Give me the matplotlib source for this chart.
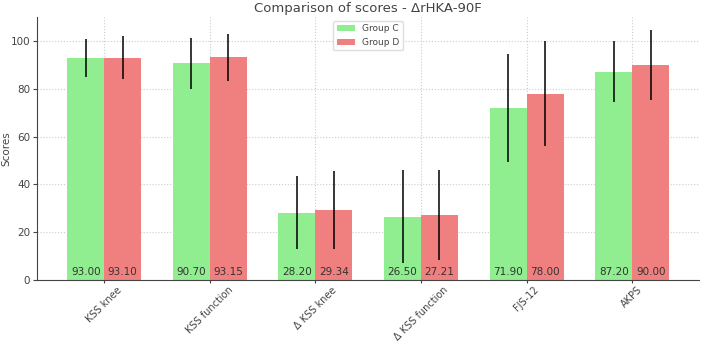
import matplotlib
matplotlib.use("Agg")
import matplotlib.pyplot as plt
import numpy as np

categorias = ["KSS knee", "KSS function", "Δ KSS knee", "Δ KSS function", "FJS-12", "AKPS"]
media_c = [93.00, 90.70, 28.20, 26.50, 71.90, 87.20]
media_d = [93.10, 93.15, 29.34, 27.21, 78.00, 90.00]
sd_c = [8.0, 10.7, 15.3, 19.5, 22.7, 12.9]
sd_d = [9.0, 9.7, 16.2, 19.0, 22.0, 14.6]

gris = "#444444"
plt.rcParams.update({
    "font.family": "DejaVu Sans",
    "text.color": gris,
    "axes.labelcolor": gris,
    "xtick.color": gris,
    "ytick.color": gris,
    "axes.edgecolor": gris,
})

fig = plt.figure(figsize=(7.02, 3.43), dpi=100)
ax = fig.add_axes([0.053, 0.184, 0.943, 0.766])

x = np.arange(len(categorias))
w = 0.35
err = {"elinewidth": 1.1, "ecolor": "black"}
b1 = ax.bar(x - w / 2, media_c, w, yerr=sd_c, color="#90EE90", label="Group C",
            error_kw=err, zorder=2)
b2 = ax.bar(x + w / 2, media_d, w, yerr=sd_d, color="#F08080", label="Group D",
            error_kw=err, zorder=2)

for barras, vals in ((b1, media_c), (b2, media_d)):
    for b, v in zip(barras, vals):
        ax.text(b.get_x() + b.get_width() / 2, 1.2, f"{v:.2f}", ha="center", va="bottom",
                fontsize=7.5, color="#333333", zorder=3)

ax.set_ylim(0, 110)
ax.set_xticks(x)
ax.set_xticklabels(categorias, rotation=45, ha="center", fontsize=7)
ax.tick_params(axis="y", labelsize=7.5, length=3, pad=2)
ax.tick_params(axis="x", length=2, pad=1.5)
ax.set_ylabel("Scores", fontsize=7.5)
ax.yaxis.set_label_coords(-0.039, 0.5)
ax.set_title("Comparison of scores - ΔrHKA-90F", fontsize=9.5, pad=4)
ax.grid(True, linestyle=":", color="#cccccc", linewidth=0.8, zorder=0)
ax.set_axisbelow(True)
ax.spines["top"].set_visible(False)
ax.spines["right"].set_visible(False)
ax.legend(loc="upper center", fontsize=6.5, framealpha=1, edgecolor="#dddddd",
          borderaxespad=0.4)

fig.savefig("out.png", dpi=100)
